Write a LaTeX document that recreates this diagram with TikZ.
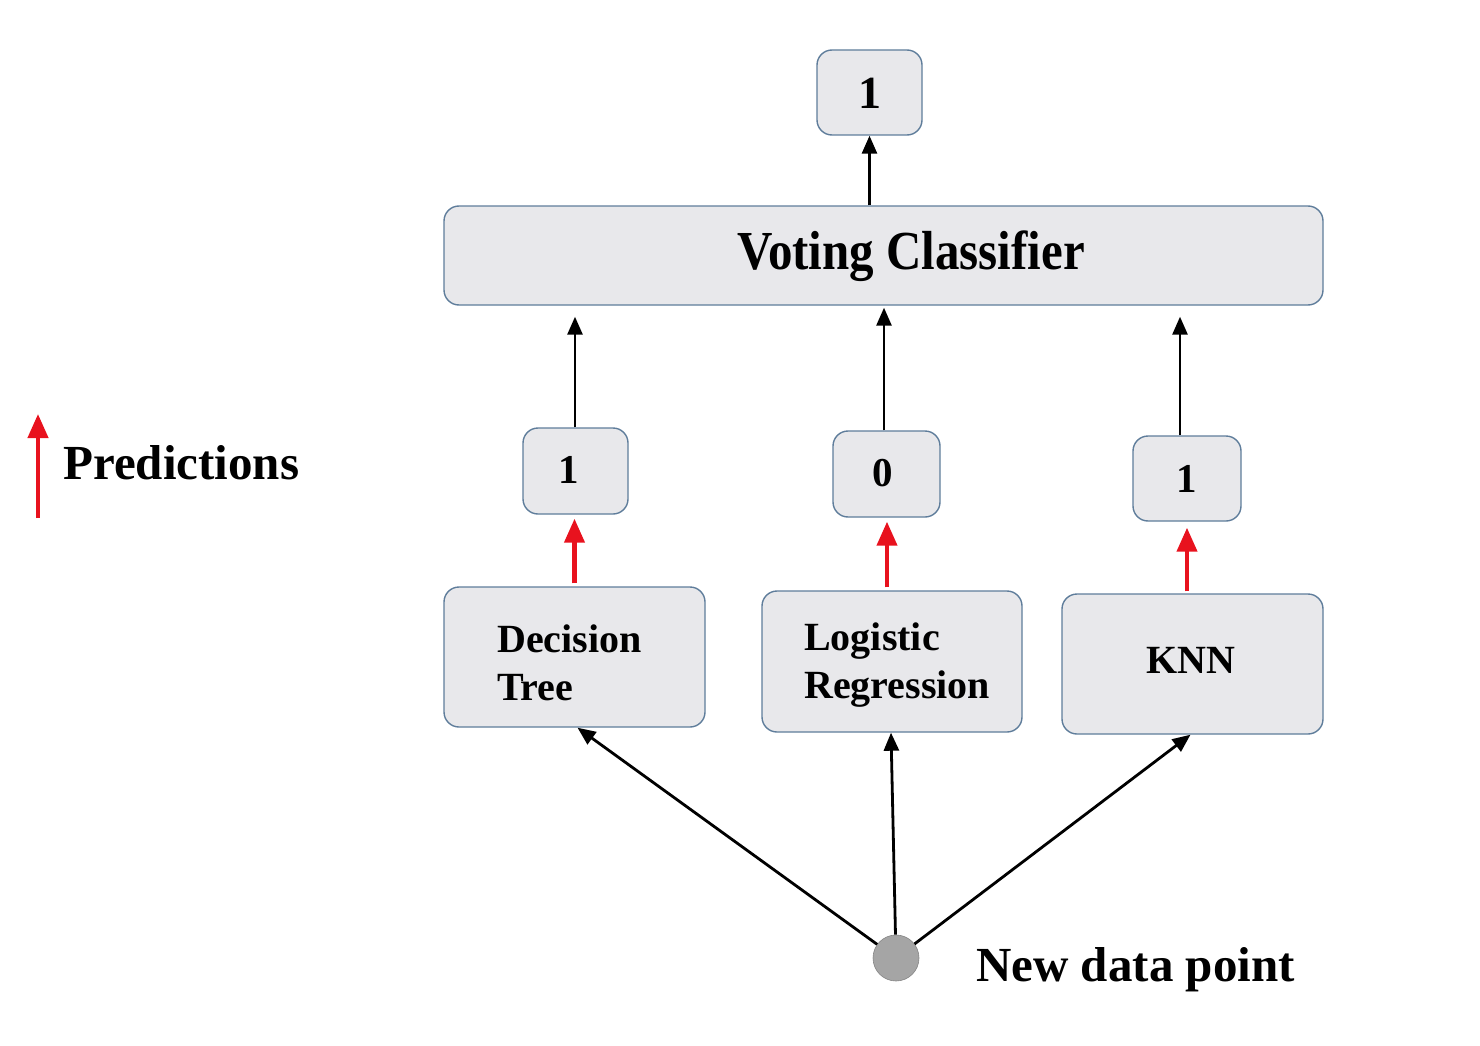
\documentclass[tikz,border=0pt]{standalone}
\usepackage{fontspec}
\setmainfont{Liberation Serif}
\usetikzlibrary{arrows.meta}
\definecolor{boxfill}{RGB}{232,232,235}
\definecolor{boxline}{RGB}{95,125,155}
\definecolor{predred}{RGB}{232,18,30}
\definecolor{dotgray}{RGB}{165,165,165}
\tikzset{
  rbox/.style={draw=boxline, line width=1.4pt, fill=boxfill, rounded corners=15pt, inner sep=0pt},
  lbl/.style={font=\bfseries\fontsize{40}{48}\selectfont, inner sep=0pt, align=left},
  blackarr/.style={line width=2.8pt, -{Triangle[width=15pt,length=18pt]}},
  redarr/.style={draw=predred, line width=4.2pt, -{Triangle[width=20pt,length=24pt]}},
  dataline/.style={line width=2.8pt, -{Triangle[width=15pt,length=18pt]}},
}
\begin{document}
\begin{tikzpicture}[x=1pt,y=-1pt]
\useasboundingbox (0,0) rectangle (1480,1046);
% top result
\node[rbox, minimum width=105pt, minimum height=85pt] (res) at (869.5,92.5) {};
\node[font=\bfseries\fontsize{46}{50}\selectfont, inner sep=0pt] (restxt) at (869.5,93) {1};
% voting classifier
\node[rbox, minimum width=879pt, minimum height=99pt] (vote) at (883.5,255.5) {};
\node[font=\bfseries\fontsize{55}{60}\selectfont, inner sep=0pt] (votetxt) at (911,256) {\scalebox{0.89}[1]{Voting Classifier}};
% predictions
\node[rbox, minimum width=105pt, minimum height=86pt] (p1) at (575.5,471) {};
\node[font=\bfseries\fontsize{41}{45}\selectfont, inner sep=0pt] (p1t) at (569,470) {1};
\node[rbox, minimum width=107pt, minimum height=86pt] (p2) at (886.5,474) {};
\node[font=\bfseries\fontsize{41}{45}\selectfont, inner sep=0pt] (p2t) at (883,473) {0};
\node[rbox, minimum width=108pt, minimum height=85pt] (p3) at (1187,478.5) {};
\node[font=\bfseries\fontsize{41}{45}\selectfont, inner sep=0pt] (p3t) at (1187,479) {1};
% models
\node[rbox, minimum width=261pt, minimum height=140pt] (dt) at (574.5,657) {};
\node[lbl, anchor=west] (dtt) at (497,663) {Decision\\Tree};
\node[rbox, minimum width=260pt, minimum height=141pt] (lr) at (892,661.5) {};
\node[lbl, anchor=west] (lrt) at (804,665) {Logistic\\Regression};
\node[rbox, minimum width=261pt, minimum height=140pt] (knn) at (1192.5,664) {};
\node[lbl] (knnt) at (1191,660) {KNN};
% data point
\node[circle, fill=dotgray, draw=dotgray!80!black, line width=0.6pt, minimum size=46pt, inner sep=0pt] (dp) at (896,958) {};
\node[font=\bfseries\fontsize{49}{54}\selectfont, inner sep=0pt, anchor=west] (dplbl) at (976,970) {New data point};
% legend
\coordinate (lega) at (38,518);
\coordinate (legb) at (38,414);
\draw[redarr] (lega) -- (legb);
\node[font=\bfseries\fontsize{49}{54}\selectfont, inner sep=0pt, anchor=west] (legt) at (63,463) {Predictions};
% connectors
\draw[blackarr] (vote.north -| res) -- (res.south);
\draw[blackarr, shorten >=11pt] ([xshift=-0.5pt]p1.north) -- ([xshift=-0.5pt]p1.north |- vote.south);
\draw[blackarr, shorten >=2pt] ([xshift=-2.5pt]p2.north) -- ([xshift=-2.5pt]p2.north |- vote.south);
\draw[blackarr, shorten >=11pt] ([xshift=-7pt]p3.north) -- ([xshift=-7pt]p3.north |- vote.south);
\draw[redarr, shorten <=3pt, shorten >=4pt] (dt.north) -- (dt.north |- p1.south);
\draw[redarr, shorten <=3pt, shorten >=4pt] ([xshift=-5pt]lr.north) -- ([xshift=-5pt]lr.north |- p2.south);
\draw[redarr, shorten <=2pt, shorten >=6pt] ([xshift=-5.5pt]knn.north) -- ([xshift=-5.5pt]knn.north |- p3.south);
\draw[dataline] (dp) -- ([xshift=3pt]dt.south);
\draw[dataline] (dp) -- ([xshift=-1pt]lr.south);
\draw[dataline] (dp) -- ([xshift=-2pt]knn.south);
\end{tikzpicture}
\end{document}
